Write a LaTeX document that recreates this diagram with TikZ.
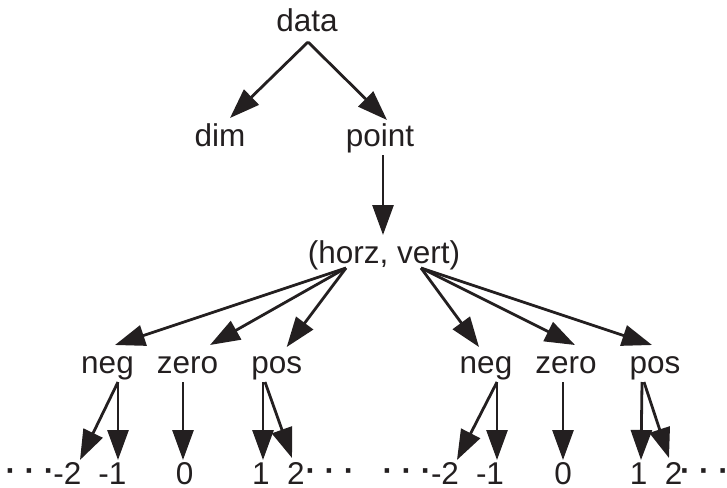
\documentclass[tikz,border=0pt]{standalone}
\usepackage{fontspec}
\setmainfont{Liberation Sans}
\usetikzlibrary{arrows.meta}
\definecolor{ink}{HTML}{231F20}
\newcommand{\ellip}{\raisebox{3.5pt}{\bfseries · · ·}}
\tikzset{
  lbl/.style={anchor=base, inner sep=0pt, text=ink, font=\fontsize{31.5}{38}\selectfont},
  arr/.style={draw=ink, line width=2.8pt, -{Triangle[length=30pt, width=21pt]}},
}
\begin{document}
\begin{tikzpicture}[x=1pt, y=-1pt]
\useasboundingbox (0,0) rectangle (727,487);
% top of the tree
\node[lbl] (data)  at (307,32)  {data};
\node[lbl] (dim)   at (220,146) {dim};
\node[lbl] (point) at (380,146) {point};
\node[lbl] (hv)    at (384,263) {(horz, vert)};
% sign classes, left and right
\node[lbl] (lneg)  at (107.5,373) {neg};
\node[lbl] (lzero) at (187.5,373) {zero};
\node[lbl] (lpos)  at (276.7,373) {pos};
\node[lbl] (rneg)  at (486,373)   {neg};
\node[lbl] (rzero) at (566,373)   {zero};
\node[lbl] (rpos)  at (655,373)   {pos};
% integer leaves
\node[lbl] (ldl) at (30,484.5)    {\ellip};
\node[lbl] (lm2) at (67.5,484.5)  {-2};
\node[lbl] (lm1) at (112.5,484.5) {-1};
\node[lbl] (l0)  at (184.7,484.5) {0};
\node[lbl] (l1)  at (261,484.5)   {1};
\node[lbl] (l2)  at (296,484.5)   {2};
\node[lbl] (ldr) at (330,484.5)   {\ellip};
\node[lbl] (rdl) at (407,484.5)   {\ellip};
\node[lbl] (rm2) at (445,484.5)   {-2};
\node[lbl] (rm1) at (490,484.5)   {-1};
\node[lbl] (r0)  at (563,484.5)   {0};
\node[lbl] (r1)  at (638.7,484.5) {1};
\node[lbl] (r2)  at (673.5,484.5) {2};
\node[lbl] (rdr) at (704.5,484.5) {\ellip};
% connectors
\draw[arr] ([xshift=1pt,yshift=-10pt]data.base) -- ([xshift=10pt,yshift=28pt]dim.base);
\draw[arr] ([xshift=1pt,yshift=-10pt]data.base) -- ([xshift=7pt,yshift=26pt]point.base);
\draw[arr] ([xshift=3pt,yshift=-9pt]point.base) -- ([xshift=-1pt,yshift=28pt]hv.base);
\draw[arr] ([xshift=-38pt,yshift=-5pt]hv.base) -- ([xshift=7.5pt,yshift=28pt]lneg.base);
\draw[arr] ([xshift=-38pt,yshift=-5pt]hv.base) -- ([xshift=22.5pt,yshift=28pt]lzero.base);
\draw[arr] ([xshift=-38pt,yshift=-5pt]hv.base) -- ([xshift=10pt,yshift=26pt]lpos.base);
\draw[arr] ([xshift=37pt,yshift=-5pt]hv.base) -- ([xshift=-7pt,yshift=26pt]rneg.base);
\draw[arr] ([xshift=37pt,yshift=-5pt]hv.base) -- ([xshift=9pt,yshift=28pt]rzero.base);
\draw[arr] ([xshift=37pt,yshift=-5pt]hv.base) -- ([xshift=-3pt,yshift=28pt]rpos.base);
\draw[arr] ([xshift=10.5pt,yshift=-9pt]lneg.base) -- ([xshift=12.5pt,yshift=24.5pt]lm2.base);
\draw[arr] ([xshift=10.5pt,yshift=-9pt]lneg.base) -- ([xshift=5.5pt,yshift=24.5pt]lm1.base);
\draw[arr] ([xshift=-4.5pt,yshift=-9pt]lzero.base) -- ([xshift=-1.7pt,yshift=24.5pt]l0.base);
\draw[arr] ([xshift=-13.7pt,yshift=-9pt]lpos.base) -- ([xshift=2pt,yshift=24.5pt]l1.base);
\draw[arr] ([xshift=-11.7pt,yshift=-9pt]lpos.base) -- ([xshift=-4pt,yshift=26.5pt]l2.base);
\draw[arr] ([xshift=11pt,yshift=-9pt]rneg.base) -- ([xshift=12pt,yshift=24.5pt]rm2.base);
\draw[arr] ([xshift=11pt,yshift=-9pt]rneg.base) -- ([xshift=7pt,yshift=24.5pt]rm1.base);
\draw[arr] ([xshift=-3pt,yshift=-9pt]rzero.base) -- ([yshift=24.5pt]r0.base);
\draw[arr] ([xshift=-13pt,yshift=-9pt]rpos.base) -- ([xshift=2.3pt,yshift=24.5pt]r1.base);
\draw[arr] ([xshift=-11pt,yshift=-9pt]rpos.base) -- ([xshift=-4.5pt,yshift=26.5pt]r2.base);
\end{tikzpicture}
\end{document}
